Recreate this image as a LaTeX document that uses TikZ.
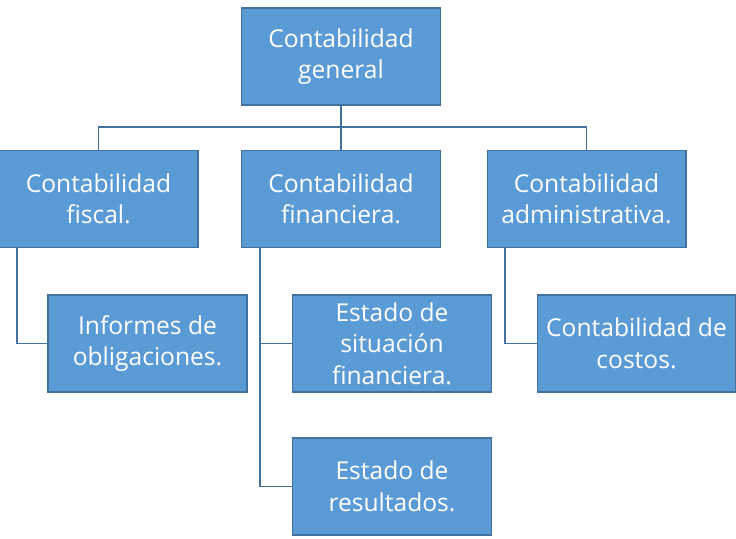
\documentclass[tikz,border=0pt]{standalone}
\usepackage{fontspec}
\setmainfont{Open Sans}
\definecolor{boxfill}{HTML}{5B9BD5}
\definecolor{boxline}{HTML}{41719C}
\usetikzlibrary{positioning}

\begin{document}
\begin{tikzpicture}[x=0.02cm, y=-0.02cm,
    cbox/.style={rectangle, draw=boxline, fill=boxfill, text=white, line width=0.6pt,
        minimum width=3.98cm, minimum height=1.94cm, align=center, inner sep=1pt,
        font=\fontsize{14}{18}\selectfont},
    link/.style={draw=boxline, line width=0.6pt}]
    \useasboundingbox (0,0) rectangle (736,538);
    \node[cbox] at (341, 56.5)   (gen) {Contabilidad\\general};
    \node[cbox] at (98.5, 199)   (fis) {Contabilidad\\fiscal.};
    \node[cbox] at (341, 199)    (fin) {Contabilidad\\financiera.};
    \node[cbox] at (586.5, 199)  (adm) {Contabilidad\\administrativa.};
    \node[cbox] at (147.5, 343.5) (inf) {Informes de\\obligaciones.};
    \node[cbox] at (392, 343.5)  (sit) {Estado de\\situación\\financiera.};
    \node[cbox] at (392, 486.5)  (res) {Estado de\\resultados.};
    \node[cbox] at (636.5, 343.5) (cos) {Contabilidad de\\costos.};

    \coordinate (hub) at (341, 127);
    \draw[link] (gen) -- (hub);
    \draw[link] (fis.north) -- (98.5, 127) -- (586.5, 127) -- (adm.north);
    \draw[link] (hub) -- (fin);
    \draw[link] (17, 248) |- (inf);
    \draw[link] (260, 248) |- (sit);
    \draw[link] (260, 343.5) |- (res);
    \draw[link] (505, 248) |- (cos);
\end{tikzpicture}
\end{document}
